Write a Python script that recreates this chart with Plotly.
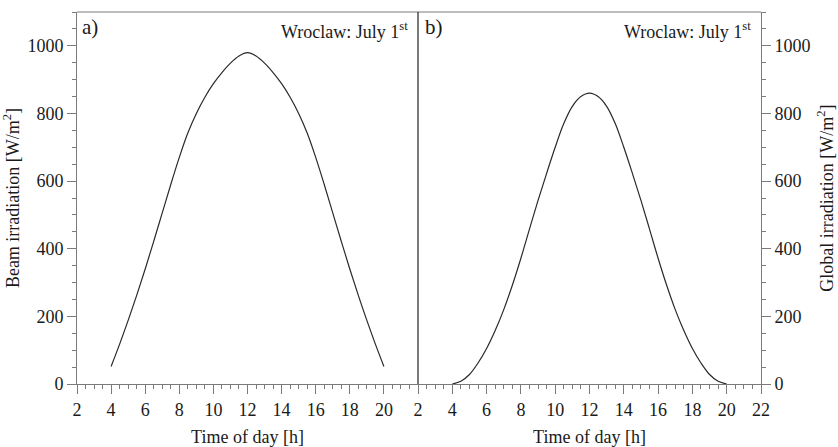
import plotly.graph_objects as go

hours = [4.0, 4.5, 5.0, 5.5, 6.0, 6.5, 7.0, 7.5, 8.0, 8.5, 9.0, 9.5, 10.0, 10.5, 11.0, 11.5,
         12.0, 12.5, 13.0, 13.5, 14.0, 14.5, 15.0, 15.5, 16.0, 16.5, 17.0, 17.5, 18.0, 18.5,
         19.0, 19.5, 20.0]
beam = [52, 118, 188, 262, 340, 422, 506, 590, 670, 742, 800, 848, 888, 921, 949, 970,
        980, 970, 949, 921, 888, 848, 800, 742, 670, 590, 506, 422, 340, 262, 188, 118, 52]
glob = [0, 8, 28, 62, 105, 158, 220, 292, 372, 458, 543, 623, 700, 770, 821, 850,
        860, 850, 821, 770, 700, 623, 543, 458, 372, 292, 220, 158, 105, 62, 28, 8, 0]

x_ticks_left = [2, 4, 6, 8, 10, 12, 14, 16, 18, 20]
x_ticks_right = [2, 4, 6, 8, 10, 12, 14, 16, 18, 20, 22]
y_ticks = [0, 200, 400, 600, 800, 1000]

FONT = "Liberation Serif, Times New Roman, DejaVu Serif, serif"
AX = "#7a7a7a"
TXT = "#1a1a1a"
FS = 18

fig = go.Figure()
fig.add_trace(go.Scatter(x=hours, y=beam, mode="lines",
                         line=dict(color="#2a2a2a", width=1.2, shape="spline", smoothing=1.0),
                         xaxis="x", yaxis="y", showlegend=False))
fig.add_trace(go.Scatter(x=hours, y=glob, mode="lines",
                         line=dict(color="#2a2a2a", width=1.2, shape="spline", smoothing=1.0),
                         xaxis="x2", yaxis="y2", showlegend=False))

split = 341 / 684

common_x = dict(range=[2, 22], showline=True, linecolor=AX, linewidth=1, ticks="outside",
                ticklen=9, tickcolor=AX, tickwidth=1, showgrid=False, zeroline=False,
                automargin=False,
                tickfont=dict(family=FONT, size=FS, color=TXT),
                minor=dict(dtick=0.5, tick0=0, ticks="outside", ticklen=4, tickcolor=AX, showgrid=False),
                title=dict(text="Time of day [h]", font=dict(family=FONT, size=FS, color=TXT), standoff=12))
common_y = dict(range=[0, 1100], showline=True, linecolor=AX, linewidth=1, ticks="outside",
                ticklen=9, tickcolor=AX, tickwidth=1, showgrid=False, zeroline=False,
                automargin=False,
                tickmode="array", tickvals=y_ticks,
                tickfont=dict(family=FONT, size=FS, color=TXT),
                minor=dict(dtick=50, tick0=0, ticks="outside", ticklen=4, tickcolor=AX, showgrid=False))

fig.update_layout(
    width=838, height=447,
    margin=dict(l=77, r=77, t=12, b=63),
    paper_bgcolor="white", plot_bgcolor="white",
    font=dict(family=FONT, size=FS, color=TXT),
    xaxis=dict(domain=[0, split], anchor="y", tickmode="array", tickvals=x_ticks_left, **common_x),
    xaxis2=dict(domain=[split, 1], anchor="y2", tickmode="array", tickvals=x_ticks_right, **common_x),
    yaxis=dict(domain=[0, 1], anchor="x", side="left",
               title=dict(text="Beam irradiation [W/m<sup>2</sup>]", font=dict(family=FONT, size=FS, color=TXT), standoff=4),
               **common_y),
    yaxis2=dict(domain=[0, 1], anchor="x2", side="right",
                title=dict(text="Global irradiation [W/m<sup>2</sup>]", font=dict(family=FONT, size=FS, color=TXT), standoff=10),
                **common_y),
    shapes=[
        dict(type="line", xref="paper", yref="paper", x0=0, x1=1, y0=1, y1=1,
             line=dict(color=AX, width=1)),
        dict(type="line", xref="paper", yref="paper", x0=split, x1=split, y0=0, y1=1,
             line=dict(color="#222222", width=1.2)),
    ],
    annotations=[
        dict(text="a)", xref="paper", yref="paper", x=0.004, y=0.998, xanchor="left", yanchor="top",
             showarrow=False, font=dict(family=FONT, size=21, color=TXT)),
        dict(text="Wroclaw: July 1<sup>st</sup>", xref="paper", yref="paper", x=split - 0.012, y=0.986,
             xanchor="right", yanchor="top", showarrow=False, font=dict(family=FONT, size=FS, color=TXT)),
        dict(text="b)", xref="paper", yref="paper", x=split + 0.008, y=0.998, xanchor="left", yanchor="top",
             showarrow=False, font=dict(family=FONT, size=21, color=TXT)),
        dict(text="Wroclaw: July 1<sup>st</sup>", xref="paper", yref="paper", x=1 - 0.012, y=0.986,
             xanchor="right", yanchor="top", showarrow=False, font=dict(family=FONT, size=FS, color=TXT)),
    ],
)

fig.write_html("out.html")
